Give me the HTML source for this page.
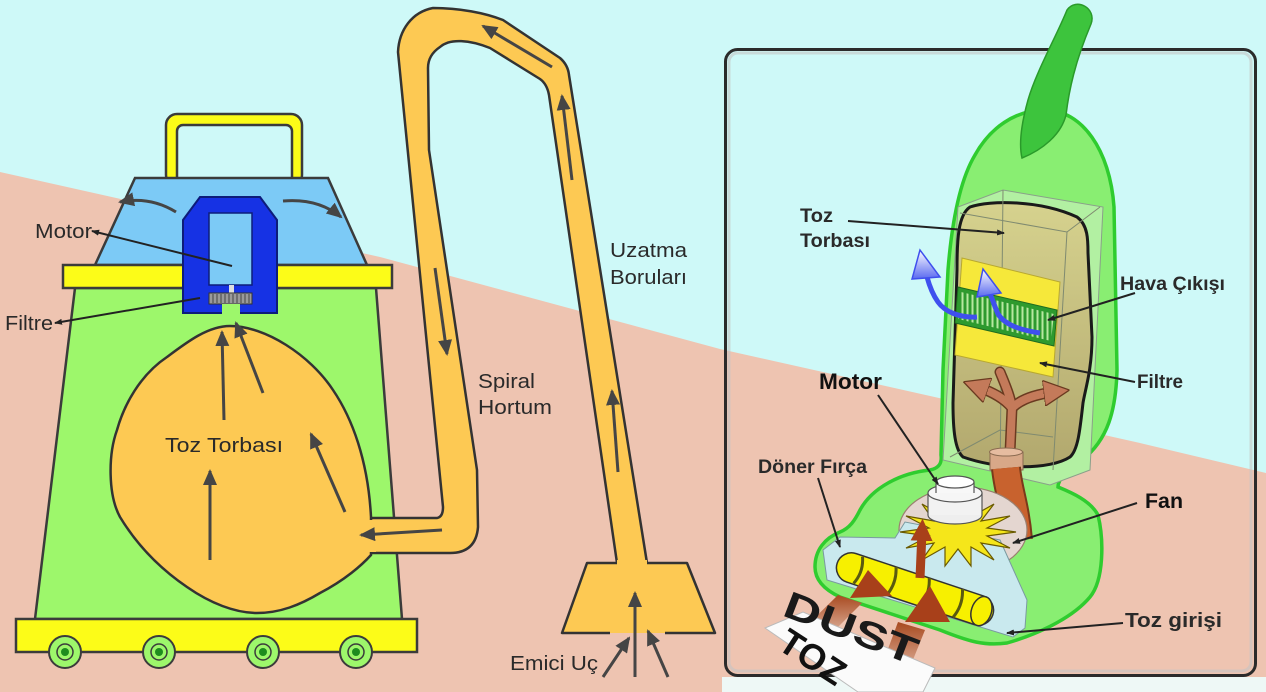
<!DOCTYPE html>
<html><head><meta charset="utf-8"><style>
html,body{margin:0;padding:0;background:#cef9f8;overflow:hidden}
svg{display:block}
text{font-family:"Liberation Sans",Arial,sans-serif}
</style></head><body>
<svg width="1266" height="692" viewBox="0 0 1266 692" xmlns="http://www.w3.org/2000/svg">
<defs>
<marker id="a" viewBox="0 0 16 14" refX="14" refY="7" markerWidth="16" markerHeight="14" orient="auto" markerUnits="userSpaceOnUse"><path d="M0,0 L16,7 L0,14 Z" fill="#454545"/></marker>
<marker id="s" viewBox="0 0 8 6" refX="7" refY="3" markerWidth="8" markerHeight="6" orient="auto-start-reverse" markerUnits="userSpaceOnUse"><path d="M0,0 L8,3 L0,6 Z" fill="#222"/></marker>
<marker id="b" viewBox="0 0 20 20" refX="8" refY="10" markerWidth="26" markerHeight="26" orient="auto" markerUnits="userSpaceOnUse"><path d="M0,0 L20,10 L0,20 Z" fill="#c47a5a" stroke="#6a3a20" stroke-width="1"/></marker>
<marker id="r" viewBox="0 0 20 20" refX="8" refY="10" markerWidth="22" markerHeight="22" orient="auto" markerUnits="userSpaceOnUse"><path d="M0,0 L20,10 L0,20 Z" fill="#a8401a"/></marker>
<linearGradient id="bag" x1="0" y1="0" x2="0" y2="1"><stop offset="0" stop-color="#d6d28e"/><stop offset="1" stop-color="#b2a86e"/></linearGradient>
<linearGradient id="bw" x1="0" y1="0" x2="0" y2="1"><stop offset="0" stop-color="#ffffff"/><stop offset="1" stop-color="#5a6af0"/></linearGradient>
<linearGradient id="st" x1="0" y1="0" x2="0" y2="1"><stop offset="0" stop-color="#a84a20"/><stop offset="1" stop-color="#f5ddd0"/></linearGradient>
<pattern id="gr" width="5" height="60" patternUnits="userSpaceOnUse"><rect width="5" height="60" fill="#2e9a2e"/><rect x="1.5" width="2" height="60" fill="#b8e8a0"/></pattern>
</defs>

<rect width="1266" height="692" fill="#cef9f8"/>
<polygon fill="#eec4b1" points="0,172 380,257 720,349 890,387 1140,443 1266,473 1266,692 0,692"/>
<rect x="722" y="677" width="544" height="15" fill="#eef8f6"/>

<!-- ===== LEFT VACUUM ===== -->
<rect x="166" y="114" width="136" height="72" rx="11" fill="#fcfc18" stroke="#3b3b3b" stroke-width="2.5"/>
<rect x="177" y="125" width="115" height="60" rx="6" fill="#cef9f8" stroke="#3b3b3b" stroke-width="2.5"/>
<polygon points="135,178 328,178 367,265 95,265" fill="#7ccaf6" stroke="#3b3b3b" stroke-width="2.5"/>
<polygon points="75,288 376,288 402,619 35,619" fill="#9df76b" stroke="#3b3b3b" stroke-width="2.5"/>
<rect x="63" y="265" width="329" height="23" fill="#fcfc18" stroke="#3b3b3b" stroke-width="2.5"/>

<path d="M183,313 V220 L200,197 H260 L277,220 V313 Z" fill="#1632e4" stroke="#0d1c7a" stroke-width="2"/>
<rect x="209" y="213" width="43" height="72" fill="#7ccaf6" stroke="#0d1c7a" stroke-width="1.5"/>
<rect x="229" y="285" width="5" height="8" fill="#ddd"/>
<rect x="209" y="293" width="43" height="11" fill="#9a9a9a" stroke="#333" stroke-width="1"/>
<path d="M213,294v9M217,294v9M221,294v9M225,294v9M229,294v9M233,294v9M237,294v9M241,294v9M245,294v9M249,294v9" stroke="#444" stroke-width="1"/>
<rect x="222" y="304" width="18" height="11" fill="#9df76b"/>

<path d="M176,212 Q150,196 120,202" fill="none" stroke="#454545" stroke-width="3" marker-end="url(#a)"/>
<path d="M283,201 Q318,198 341,217" fill="none" stroke="#454545" stroke-width="3" marker-end="url(#a)"/>

<rect x="16" y="619" width="401" height="33" fill="#fcfc18" stroke="#3b3b3b" stroke-width="2.5"/>
<g stroke="#3b3b3b" stroke-width="2">
<circle cx="65" cy="652" r="16" fill="#9df76b"/><circle cx="65" cy="652" r="8" fill="#9df76b" stroke-width="1.5"/><circle cx="65" cy="652" r="4" fill="#1e8c1e" stroke="none"/>
<circle cx="159" cy="652" r="16" fill="#9df76b"/><circle cx="159" cy="652" r="8" fill="#9df76b" stroke-width="1.5"/><circle cx="159" cy="652" r="4" fill="#1e8c1e" stroke="none"/>
<circle cx="263" cy="652" r="16" fill="#9df76b"/><circle cx="263" cy="652" r="8" fill="#9df76b" stroke-width="1.5"/><circle cx="263" cy="652" r="4" fill="#1e8c1e" stroke="none"/>
<circle cx="356" cy="652" r="16" fill="#9df76b"/><circle cx="356" cy="652" r="8" fill="#9df76b" stroke-width="1.5"/><circle cx="356" cy="652" r="4" fill="#1e8c1e" stroke="none"/>
</g>

<path d="M362,518 L437,518 Q443,517 443,507 L398,52 C399,30 412,12 433,8 C460,8 485,13 503,20 L560,58 Q568,65 569,75 L647,563 L617,563 L549,95 Q547,84 540,79 L490,48 C470,40 450,38 440,47 Q428,55 428,68 L429,150 L477,470 L478,527 Q476,553 450,553 L362,553 Z" fill="#fdc953" stroke="#333" stroke-width="2.5" stroke-linejoin="round"/>
<polygon points="587,563 617,563 617,560 647,560 647,563 687,563 715,633 562,633" fill="#fdc953"/>
<path d="M617,563 H587 L562,633 H610 M647,563 H687 L715,633 H665" fill="none" stroke="#333" stroke-width="2.5" stroke-linejoin="round"/>

<path d="M230,326 C265,326 310,355 333,390 C352,418 368,460 371,517 L371,555 C362,565 345,580 320,593 C300,605 280,613 257,613 C235,613 210,603 187,587 C165,572 140,550 120,517 C108,495 108,455 117,430 C124,405 140,375 167,357 C187,342 208,326 230,326 Z" fill="#fdc953" stroke="#333" stroke-width="2.5"/>
<rect x="368" y="520" width="8" height="32" fill="#fdc953"/>

<g stroke="#454545" stroke-width="3" fill="none" marker-end="url(#a)">
<line x1="224" y1="420" x2="222" y2="332"/>
<line x1="263" y1="393" x2="236" y2="323"/>
<line x1="210" y1="560" x2="210" y2="471"/>
<line x1="345" y1="512" x2="311" y2="434"/>
<line x1="442" y1="530" x2="361" y2="535"/>
<line x1="552" y1="67" x2="483" y2="26"/>
<line x1="435" y1="268" x2="447" y2="354"/>
<line x1="572" y1="180" x2="562" y2="96"/>
<line x1="618" y1="472" x2="612" y2="391"/>
<line x1="635" y1="677" x2="635" y2="593"/>
<line x1="603" y1="677" x2="629" y2="638"/>
<line x1="668" y1="677" x2="648" y2="631"/>
</g>

<line x1="92" y1="231" x2="232" y2="266" stroke="#222" stroke-width="2" marker-start="url(#s)"/>
<line x1="55" y1="323" x2="200" y2="298" stroke="#222" stroke-width="2" marker-start="url(#s)"/>
<g fill="#2a2a2a" font-size="20">
<text x="35" y="238" textLength="57" lengthAdjust="spacingAndGlyphs">Motor</text>
<text x="5" y="330" textLength="48" lengthAdjust="spacingAndGlyphs">Filtre</text>
<text x="165" y="452" textLength="118" lengthAdjust="spacingAndGlyphs">Toz Torbası</text>
<text x="478" y="388" textLength="57" lengthAdjust="spacingAndGlyphs">Spiral</text>
<text x="478" y="414" textLength="74" lengthAdjust="spacingAndGlyphs">Hortum</text>
<text x="610" y="257" textLength="77" lengthAdjust="spacingAndGlyphs">Uzatma</text>
<text x="610" y="284" textLength="77" lengthAdjust="spacingAndGlyphs">Boruları</text>
<text x="510" y="670" textLength="88" lengthAdjust="spacingAndGlyphs">Emici Uç</text>
</g>

<!-- ===== RIGHT PANEL ===== -->
<rect x="729" y="53" width="522" height="618" rx="9" fill="none" stroke="#c4c4c4" stroke-width="3" opacity="0.6"/>
<rect x="725.5" y="49.5" width="530" height="626" rx="12" fill="none" stroke="#2b2b2b" stroke-width="3"/>

<path d="M1045,110 C1082,110 1110,150 1114,207 L1117,370 C1116,410 1108,440 1082,460 C1070,468 1058,478 1058,487 C1070,492 1090,500 1098,515 C1104,540 1104,580 1090,597 C1075,615 1045,632 1007,643 C985,646 970,642 940,630 L840,597 C825,590 815,580 815,567 C815,550 825,538 840,532 C850,528 855,520 860,510 C872,488 900,473 930,470 C940,468 942,462 941,455 L943,370 L948,270 C952,220 960,180 975,155 C990,128 1015,110 1045,110 Z" fill="#89ee72" stroke="#2fcc2f" stroke-width="3.5"/>
<path d="M1067,10 C1057,35 1036,72 1028,100 C1021,125 1019,145 1022,158 C1042,150 1061,135 1066,115 C1069,90 1075,62 1091,24 C1097,8 1076,-3 1067,10 Z" fill="#3dc43d" stroke="#2a9a2a" stroke-width="1.5"/>

<polygon points="958,207 1003,190 1103,207 1090,470 1050,485 943,460" fill="#b2f0a2" stroke="#8aa08a" stroke-width="1"/>
<path d="M970,207 C990,200 1040,200 1077,217 C1088,225 1088,240 1088,253 L1092,337 C1092,370 1085,390 1083,403 C1080,430 1078,450 1070,457 C1050,470 1000,470 963,457 C955,450 953,430 953,403 L957,270 C957,240 958,215 970,207 Z" fill="url(#bag)" stroke="#1a1a1a" stroke-width="3"/>
<g stroke="#7f8a70" stroke-width="1" fill="none">
<path d="M1003,190 L1000,478"/>
<path d="M960,213 L1067,232 L1100,207"/>
<path d="M1067,232 L1053,470"/>
<path d="M950,457 L1000,430 L1053,437"/>
</g>
<polygon points="962,258 1060,282 1053,377 955,355" fill="#f6e83a" stroke="#b8a830" stroke-width="1"/>
<polygon points="958,287 1057,310 1054,346 955,323" fill="#2e9a2e" stroke="#1f6a1f" stroke-width="1"/>
<polygon points="961,292 1054,314 1051,341 958,319" fill="url(#gr)"/>
<path d="M977,317 C960,318 945,312 938,302 C933,295 930,288 927,277" fill="none" stroke="#3f50ee" stroke-width="5"/>
<polygon points="920,250 912,279 940,277" fill="url(#bw)" stroke="#3f50ee" stroke-width="1.5"/>
<path d="M1040,333 C1020,330 1005,325 998,314 C994,305 993,300 990,294" fill="none" stroke="#3f50ee" stroke-width="5"/>
<polygon points="983,269 977,297 1001,293" fill="url(#bw)" stroke="#3f50ee" stroke-width="1.5"/>
<g fill="none" stroke-linecap="round">
<path d="M1010,452 L1012,408 C1004,398 992,392 978,387" stroke="#6a3a20" stroke-width="11"/>
<path d="M1012,408 C1022,398 1038,394 1054,392" stroke="#6a3a20" stroke-width="11"/>
<path d="M1012,408 C1010,395 1004,382 1000,372" stroke="#6a3a20" stroke-width="11"/>
<path d="M1010,452 L1012,408 C1004,398 992,392 978,387" stroke="#c47a5a" stroke-width="8" marker-end="url(#b)"/>
<path d="M1012,408 C1022,398 1038,394 1054,392" stroke="#c47a5a" stroke-width="8" marker-end="url(#b)"/>
<path d="M1012,408 C1010,395 1004,382 1000,372" stroke="#c47a5a" stroke-width="8"/>
</g>
<rect x="990" y="452" width="33" height="18" fill="#d8a888" stroke="#8a6a50" stroke-width="1"/>
<ellipse cx="1006" cy="452" rx="16.5" ry="4" fill="#e6bca0" stroke="#8a6a50" stroke-width="1"/>
<path d="M1006,468 C1008,490 1015,505 1018,540" fill="none" stroke="#7a3a1a" stroke-width="30"/>
<path d="M1006,468 C1008,490 1015,505 1018,540" fill="none" stroke="#c8622e" stroke-width="26"/>

<ellipse cx="963" cy="530" rx="64" ry="43" fill="#e4d6d0" stroke="#9a8070" stroke-width="1.2"/>
<polygon points="823,550 840,537 895,538 905,522 1000,540 1027,600 1025,628 1013,637 827,580" fill="#c9e9ee" stroke="#7a9aa0" stroke-width="1"/>
<polygon points="1016,532 987,536 1010,548 981,543 994,560 971,547 971,566 958,549 945,566 945,547 922,560 934,543 906,548 929,536 900,532 929,528 906,516 934,521 922,504 945,517 945,498 958,515 971,498 971,517 994,504 981,521 1010,516 987,528" fill="#f5e61a" stroke="#6a5a00" stroke-width="1.2"/>
<ellipse cx="955" cy="515" rx="27" ry="9" fill="#eeeeee" stroke="#555" stroke-width="1.2"/>
<rect x="928" y="493" width="54" height="22" fill="#f2f2f2"/>
<line x1="928" y1="493" x2="928" y2="515" stroke="#555" stroke-width="1.2"/>
<line x1="982" y1="493" x2="982" y2="515" stroke="#555" stroke-width="1.2"/>
<ellipse cx="955" cy="493" rx="27" ry="9" fill="#f6f6f6" stroke="#555" stroke-width="1.2"/>
<rect x="936" y="482" width="38" height="11" fill="#f8f8f8"/>
<line x1="936" y1="482" x2="936" y2="493" stroke="#555" stroke-width="1.2"/>
<line x1="974" y1="482" x2="974" y2="493" stroke="#555" stroke-width="1.2"/>
<ellipse cx="955" cy="482" rx="19" ry="6" fill="#ffffff" stroke="#555" stroke-width="1.2"/>
<g transform="translate(915,589) rotate(18.4)">
<rect x="-82" y="-15" width="164" height="30" rx="15" fill="#f7f000" stroke="#333" stroke-width="1.5"/>
<path d="M-60,-14 q6,14 0,28 M-25,-15 q6,15 0,30 M10,-15 q6,15 0,30 M45,-15 q6,15 0,30" fill="none" stroke="#5a5a10" stroke-width="3"/>
<ellipse cx="70" cy="0" rx="10" ry="15" fill="#f7f000" stroke="#333" stroke-width="1.5"/>
</g>
<line x1="920" y1="578" x2="922" y2="532" stroke="#a8401a" stroke-width="9" marker-end="url(#r)"/>
<polygon points="850,598 868,570 892,596" fill="#a8401a"/>
<polygon points="905,622 930,586 950,622" fill="#a8401a"/>
<polygon points="838,595 862,603 815,650 790,642" fill="url(#st)"/>
<polygon points="898,622 925,630 900,692 872,692" fill="url(#st)"/>
<polygon points="765,628 803,612 935,668 923,692 858,692" fill="#fbfbfb" stroke="#bbb" stroke-width="1"/>
<text transform="translate(781,615) rotate(21)" font-size="38" font-weight="bold" fill="#1a1a1a" textLength="140" lengthAdjust="spacingAndGlyphs">DUST</text>
<text transform="translate(776,648) rotate(33)" font-size="36" font-weight="bold" fill="#111">TOZ</text>

<g stroke="#222" stroke-width="2" fill="none" marker-end="url(#s)">
<line x1="848" y1="221" x2="1004" y2="233"/>
<line x1="1135" y1="293" x2="1048" y2="320"/>
<line x1="1135" y1="382" x2="1040" y2="363"/>
<line x1="878" y1="395" x2="938" y2="484"/>
<line x1="818" y1="478" x2="840" y2="547"/>
<line x1="1137" y1="503" x2="1013" y2="543"/>
<line x1="1123" y1="623" x2="1007" y2="633"/>
</g>
<g fill="#2a2a2a" font-weight="bold">
<text x="800" y="222" font-size="19" textLength="33" lengthAdjust="spacingAndGlyphs">Toz</text>
<text x="800" y="247" font-size="19" textLength="70" lengthAdjust="spacingAndGlyphs">Torbası</text>
<text x="1120" y="290" font-size="19" textLength="105" lengthAdjust="spacingAndGlyphs">Hava Çıkışı</text>
<text x="1137" y="388" font-size="19" textLength="46" lengthAdjust="spacingAndGlyphs">Filtre</text>
<text x="819" y="389" font-size="22" fill="#111" textLength="63" lengthAdjust="spacingAndGlyphs">Motor</text>
<text x="758" y="473" font-size="19" textLength="109" lengthAdjust="spacingAndGlyphs">Döner Fırça</text>
<text x="1145" y="508" font-size="21" fill="#111" textLength="38" lengthAdjust="spacingAndGlyphs">Fan</text>
<text x="1125" y="627" font-size="20" textLength="97" lengthAdjust="spacingAndGlyphs">Toz girişi</text>
</g>
</svg>
</body></html>
